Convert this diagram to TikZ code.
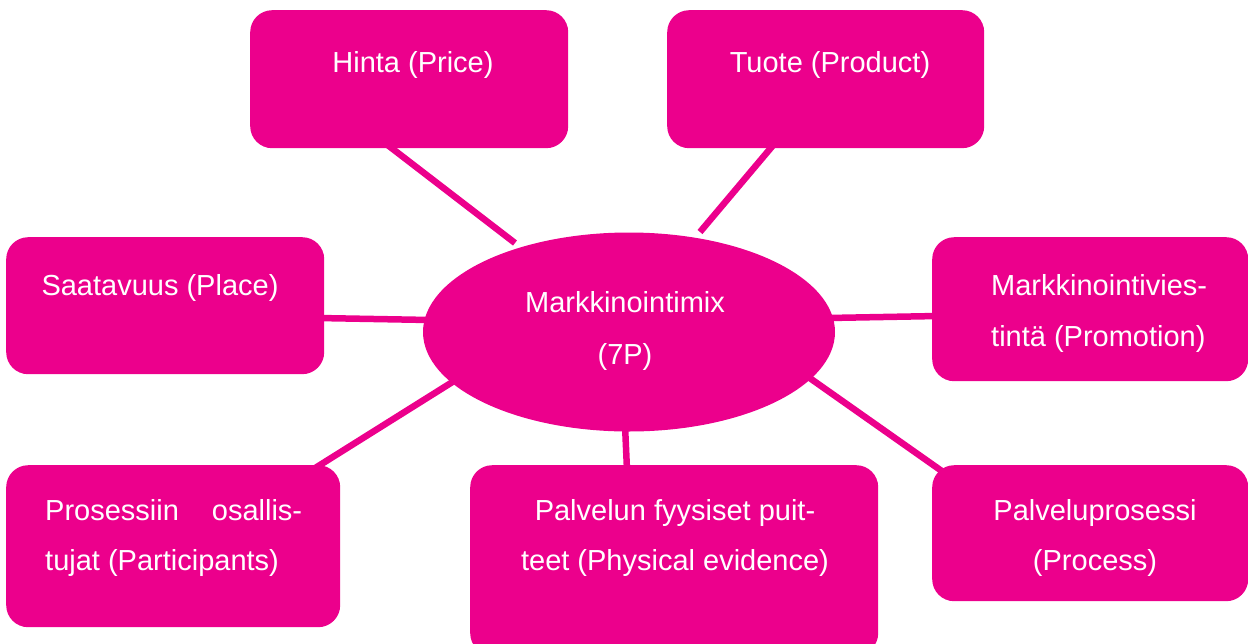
\documentclass[tikz,border=0pt]{standalone}
\usepackage{fontspec}
\setmainfont{Liberation Sans}
\usetikzlibrary{shapes.geometric}
\definecolor{mag}{HTML}{EC008C}
\tikzset{
  box/.style={draw=none,fill=mag,rounded corners=22pt,inner sep=0pt,anchor=north west},
  lbl/.style={text=white,inner sep=0pt,font=\fontsize{29}{34}\selectfont,anchor=base},
  lblw/.style={text=white,inner sep=0pt,font=\fontsize{29}{34}\selectfont,anchor=base west},
  conn/.style={draw=mag,line width=6.5pt}
}
\begin{document}
\begin{tikzpicture}[x=1pt,y=-1pt]
\useasboundingbox (0,0) rectangle (1248,643);
% connector endpoints
\coordinate (h1) at (385,143); \coordinate (h2) at (515,243);
\coordinate (t1) at (775,143); \coordinate (t2) at (700,232);
\coordinate (s1) at (318,318); \coordinate (s2) at (430,320);
\coordinate (m1) at (828,318); \coordinate (m2) at (938,316);
\coordinate (p1) at (312,470); \coordinate (p2) at (462,376);
\coordinate (f1) at (625,425); \coordinate (f2) at (627,470);
\coordinate (r1) at (804,374); \coordinate (r2) at (946,474);
\draw[conn] (h1) -- (h2);
\draw[conn] (t1) -- (t2);
\draw[conn] (s1) -- (s2);
\draw[conn] (m1) -- (m2);
\draw[conn] (p1) -- (p2);
\draw[conn] (f1) -- (f2);
\draw[conn] (r1) -- (r2);
% boxes
\node[box,minimum width=318pt,minimum height=138pt] (hinta) at (250,10) {};
\node[box,minimum width=317pt,minimum height=138pt] (tuote) at (667,10) {};
\node[box,minimum width=318pt,minimum height=137pt] (place) at (6,237) {};
\node[box,minimum width=316pt,minimum height=144pt] (promo) at (932,237) {};
\node[box,minimum width=334pt,minimum height=162pt] (part) at (6,465) {};
\node[box,minimum width=408pt,minimum height=190pt] (phys) at (470,465) {};
\node[box,minimum width=316pt,minimum height=136pt] (proc) at (932,465) {};
\node[ellipse,fill=mag,draw=none,minimum width=412pt,minimum height=199pt,inner sep=0pt] (mix) at (629,332) {};
% texts
\node[lbl] (thinta) at (413,72) {Hinta (Price)};
\node[lbl] (ttuote) at (830,72) {Tuote (Product)};
\node[lbl] (tplace) at (160,295) {Saatavuus (Place)};
\node[lblw] (tpromo1) at (991,295) {Markkinointivies-};
\node[lblw] (tpromo2) at (991,346) {tintä (Promotion)};
\node[lblw] (tpart1) at (45,520) {Prosessiin\hspace{33pt}osallis-};
\node[lblw] (tpart2) at (45,570) {tujat (Participants)};
\node[lbl] (tphys1) at (675,520) {Palvelun fyysiset puit-};
\node[lbl] (tphys2) at (675,570) {teet (Physical evidence)};
\node[lbl] (tproc1) at (1095,520) {Palveluprosessi};
\node[lbl] (tproc2) at (1095,570) {(Process)};
\node[lbl] (tmix1) at (625,312) {Markkinointimix};
\node[lbl] (tmix2) at (625,364) {(7P)};
\end{tikzpicture}
\end{document}
